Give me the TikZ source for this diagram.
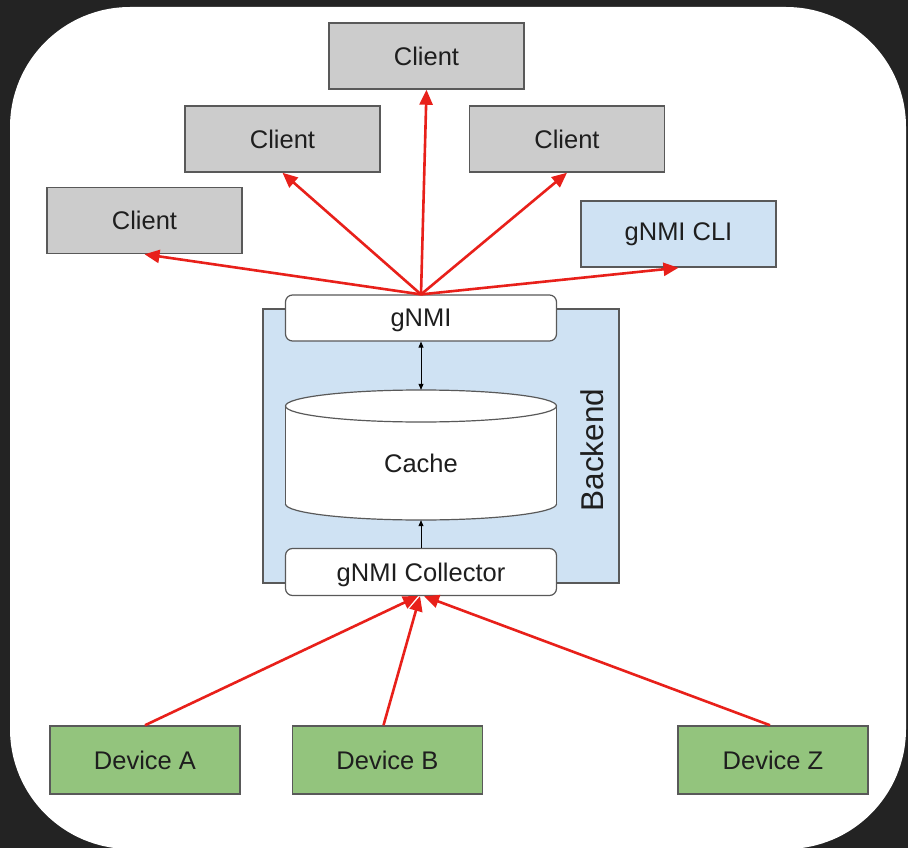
\documentclass[tikz,border=0pt]{standalone}
\usepackage{fontspec}
\setmainfont{Liberation Sans}
\usetikzlibrary{arrows.meta,calc}

\definecolor{bgdark}{HTML}{232323}
\definecolor{boxline}{HTML}{595959}
\definecolor{clientgray}{HTML}{CCCCCC}
\definecolor{paleblue}{HTML}{CFE2F3}
\definecolor{devgreen}{HTML}{93C47D}
\definecolor{linkred}{HTML}{E8201A}
\definecolor{ink}{HTML}{1E1E1E}

\begin{document}
\begin{tikzpicture}[x=1pt,y=-1pt,
  box/.style={draw=boxline,line width=1.5pt,minimum width=195pt,minimum height=66pt,
    inner sep=0pt,font=\fontsize{25.5}{30}\selectfont,text=ink},
  client/.style={box,fill=clientgray},
  cli/.style={box,fill=paleblue},
  device/.style={box,fill=devgreen,minimum width=190pt,minimum height=68pt},
  iface/.style={draw=boxline,line width=1.2pt,fill=white,rounded corners=7pt,
    minimum width=271pt,minimum height=46pt,inner sep=0pt,text depth=0pt,
    font=\fontsize{25.5}{30}\selectfont,text=ink},
  feed/.style={draw=linkred,line width=2.6pt,-{Triangle[length=15pt,width=13pt]}},
  link/.style={draw=black,line width=0.8pt}
]
\useasboundingbox (0,0) rectangle (908,848);

% frame
\fill[bgdark] (0,0) rectangle (908,848);
\fill[white,rounded corners=120pt] (10,7) rectangle (906,849);

% backend area
\filldraw[fill=paleblue,draw=boxline,line width=1.2pt] (263,309) rectangle (619,583);
\node[rotate=90,font=\fontsize{31.5}{36}\selectfont,text=ink] (backend) at (592,450) {Backend};

% cache cylinder
\fill[white] (285.5,406) rectangle (556.5,504);
\fill[white] (421,504) ellipse [x radius=135.5,y radius=16];
\draw[boxline,line width=1.2pt] (285.5,406) -- (285.5,504) (556.5,406) -- (556.5,504);
\begin{scope}
  \clip (280,504) rectangle (562,530);
  \draw[boxline,line width=1.2pt] (421,504) ellipse [x radius=135.5,y radius=16];
\end{scope}
\filldraw[fill=white,draw=boxline,line width=1.2pt] (421,406) ellipse [x radius=135.5,y radius=16];
\node[minimum width=271pt,minimum height=130pt,inner sep=0pt] (cache) at (421,455) {};
\node[font=\fontsize{25.5}{30}\selectfont,text=ink] (cachelabel) at (421,463) {Cache};

% interfaces
\node[iface] (gnmi) at (421,318) {gNMI};
\node[iface,minimum height=47pt] (coll) at (421,572) {gNMI Collector};

% clients
\node[client] (ctop) at (426.5,56) {Client};
\node[client] (cleft2) at (282.5,139) {Client};
\node[client] (cright) at (567,139) {Client};
\node[client] (cleft) at (144.5,220.5) {Client};
\node[cli] (gcli) at (678.5,234) {gNMI CLI};

% devices
\node[device] (devA) at (145,760) {Device A};
\node[device] (devB) at (387.5,760) {Device B};
\node[device] (devZ) at (773,760) {Device Z};

% internal links
\draw[link,{Triangle[length=6pt,width=5pt]}-{Triangle[length=6pt,width=5pt]}] (gnmi.south) -- (cache.north);
\draw[link,-{Triangle[length=6pt,width=5pt]}] (coll.north) -- (cache.south);

% gNMI to clients
\draw[feed] (gnmi.north) -- (ctop.south);
\draw[feed] (gnmi.north) -- (cleft2.south);
\draw[feed] (gnmi.north) -- (cright.south);
\draw[feed] (gnmi.north) -- (cleft.south);
\draw[feed] (gnmi.north) -- (gcli.south);

% devices to collector
\draw[feed] (devA.north) -- ($(coll.south)+(-3,0)$);
\draw[feed] ($(devB.north)+(-4,0)$) -- ($(coll.south)+(-1,0)$);
\draw[feed] ($(devZ.north)+(-3,0)$) -- ($(coll.south)+(3,0)$);
\end{tikzpicture}
\end{document}
